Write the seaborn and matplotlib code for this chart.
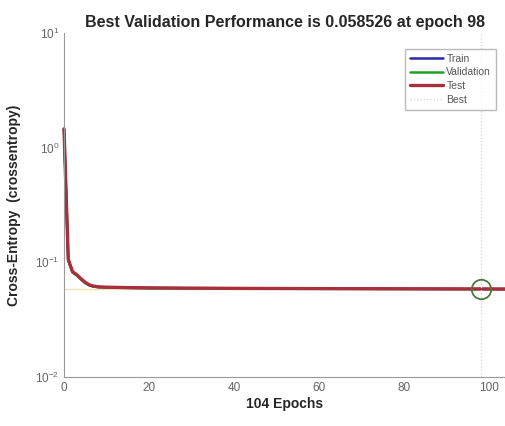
import matplotlib
matplotlib.use('Agg')
import matplotlib.pyplot as plt
import numpy as np
import pandas as pd
import seaborn as sns

# values (sparse epochs, lines join them)
epochs = [0, 1, 2, 3, 4, 5, 6, 7, 8, 10, 15, 20, 30, 40, 60, 80, 98, 104]
train = [1.45, 0.105, 0.082, 0.077, 0.071, 0.066, 0.063, 0.0615, 0.061, 0.0605,
         0.0600, 0.0597, 0.0594, 0.0592, 0.0589, 0.0587, 0.0585, 0.0584]
validation = [1.45, 0.105, 0.082, 0.077, 0.071, 0.066, 0.063, 0.0615, 0.0608, 0.0603,
              0.0599, 0.0596, 0.0593, 0.0591, 0.0588, 0.0586, 0.058526, 0.0585]
test = [1.46, 0.106, 0.083, 0.078, 0.072, 0.067, 0.0635, 0.062, 0.0612, 0.0607,
        0.0602, 0.0599, 0.0596, 0.0593, 0.0590, 0.0588, 0.0586, 0.0585]
best_epoch = 98
best_perf = 0.058526

df = pd.DataFrame({'epoch': epochs, 'Train': train, 'Validation': validation, 'Test': test})

sns.set_style('white')
plt.rcParams['font.family'] = ['Liberation Sans', 'DejaVu Sans']

fig = plt.figure(figsize=(5.06, 4.26), dpi=100)
ax = fig.add_axes([0.1265, 0.115, 0.8735, 0.8075])

sns.lineplot(data=df, x='epoch', y='Train', ax=ax, color='#2a2aa8', lw=1.8, label='Train', clip_on=False)
sns.lineplot(data=df, x='epoch', y='Validation', ax=ax, color='#22a022', lw=1.8, label='Validation', clip_on=False)
sns.lineplot(data=df, x='epoch', y='Test', ax=ax, color='#a8303c', lw=2.4, label='Test', clip_on=False)
ax.axvline(best_epoch, color='#d4d4d4', lw=0.9, ls=':', label='Best')
ax.axhline(best_perf, color='#f2e2bc', lw=1.0, zorder=0)
ax.plot([best_epoch], [best_perf], 'o', ms=14, mfc='none', mec='#4a7a3a', mew=1.3)

ax.set_yscale('log')
ax.set_ylim(0.01, 10)
ax.set_xlim(0, 104)
ax.set_xticks([0, 20, 40, 60, 80, 100])
ax.tick_params(axis='both', direction='in', colors='#888888', labelcolor='#666666', labelsize=8.5, length=3)
ax.tick_params(axis='y', which='minor', direction='in', length=2, colors='#aaaaaa')
for s in ['top', 'right']:
    ax.spines[s].set_visible(False)
for s in ['left', 'bottom']:
    ax.spines[s].set_color('#999999')
    ax.spines[s].set_linewidth(0.8)

ax.set_title('Best Validation Performance is 0.058526 at epoch 98', fontsize=11.5, fontweight='bold', pad=4)
ax.set_xlabel('104 Epochs', fontsize=10, fontweight='bold', labelpad=2)
ax.set_ylabel('Cross-Entropy  (crossentropy)', fontsize=10, fontweight='bold', labelpad=10)

leg = ax.legend(loc='upper right', bbox_to_anchor=(0.99, 0.97), fontsize=7.5, frameon=True,
                fancybox=False, edgecolor='#aaaaaa', handlelength=3.2, borderpad=0.5,
                labelspacing=0.35, handletextpad=0.3)
for t in leg.get_texts():
    t.set_color('#555555')

fig.savefig('out.png', dpi=100)
